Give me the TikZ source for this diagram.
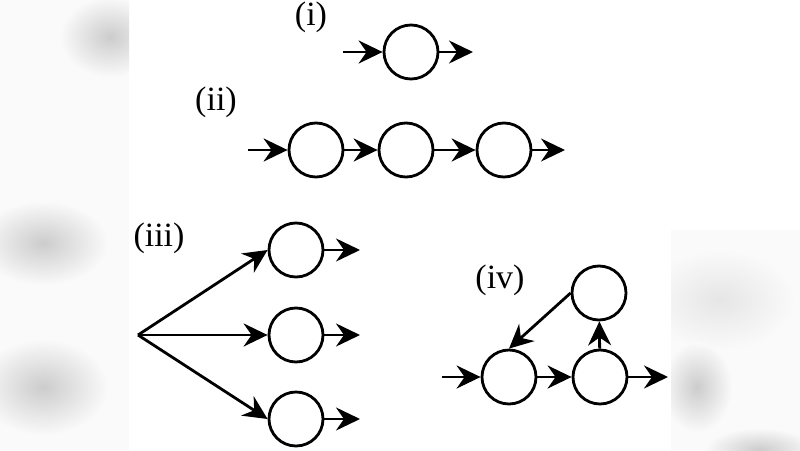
\documentclass[tikz,border=0pt]{standalone}
\usepackage{fontspec}
\setmainfont{Liberation Serif}
\usetikzlibrary{arrows.meta}
\begin{document}
\begin{tikzpicture}[x=1pt,y=-1pt,
  st/.style={circle,draw=black,line width=2.8pt,minimum size=54pt,inner sep=0pt},
  lab/.style={font=\fontsize{34}{36}\selectfont,inner sep=0pt},
  ar/.style={line width=2.8pt,-{Stealth[length=24pt,width=23pt,inset=8pt]}},
  blob/.style={inner color=black!20,outer color=black!2,draw=none}]
\useasboundingbox (0,0) rectangle (800,450);
\fill[white] (0,0) rectangle (800,450);
% blurred side panels
\begin{scope}
\clip (0,0) rectangle (129,450);
\fill[black!2] (0,0) rectangle (129,450);
\shade[blob] (110,37) ellipse (50 and 40);
\shade[blob] (43,243) ellipse (65 and 42);
\shade[blob] (43,387) ellipse (65 and 48);
\end{scope}
\begin{scope}
\clip (671,0) rectangle (800,450);
\fill[black!2] (671,230) rectangle (800,450);
\shade[inner color=black!10,outer color=black!2,draw=none] (720,300) ellipse (75 and 50);
\shade[blob] (697,387) ellipse (35 and 45);
\shade[blob] (760,450) ellipse (55 and 22);
\end{scope}
% (i)
\node[lab] (li) at (311,17) {(i)};
\node[st] (a1) at (411,52) {};
\coordinate (a0) at (343,52);
\coordinate (a2) at (473,52);
\draw[ar] (a0) -- (a1);
\draw[ar] (a1) -- (a2);
% (ii)
\node[lab] (lii) at (216,102) {(ii)};
\node[st] (b1) at (316,150) {};
\node[st] (b2) at (406,150) {};
\node[st] (b3) at (504,150) {};
\coordinate (b0) at (248,150);
\coordinate (b4) at (565,150);
\draw[ar] (b0) -- (b1);
\draw[ar] (b1) -- (b2);
\draw[ar] (b2) -- (b3);
\draw[ar] (b3) -- (b4);
% (iii)
\node[lab] (liii) at (159,238) {(iii)};
\node[st] (c1) at (296,250) {};
\node[st] (c2) at (296,335) {};
\node[st] (c3) at (296,419) {};
\coordinate (c0) at (138,335);
\coordinate (e1) at (360,250);
\coordinate (e2) at (360,335);
\coordinate (e3) at (360,419);
\draw[ar] (c0) -- (c1.west);
\draw[ar] (c0) -- (c2.west);
\draw[ar] (c0) -- (c3.west);
\draw[ar] (c1) -- (e1);
\draw[ar] (c2) -- (e2);
\draw[ar] (c3) -- (e3);
% (iv)
\node[lab] (liv) at (500,280) {(iv)};
\node[st] (dt) at (599,293) {};
\node[st] (dl) at (509,377) {};
\node[st] (dr) at (600,377) {};
\coordinate (d0) at (442,377);
\coordinate (d4) at (668,377);
\draw[ar] (d0) -- (dl);
\draw[ar] (dl) -- (dr);
\draw[ar] (dr) -- (d4);
\draw[ar] (dr) -- (dt);
\draw[ar] (dt.west) -- (dl.north);
\end{tikzpicture}
\end{document}
